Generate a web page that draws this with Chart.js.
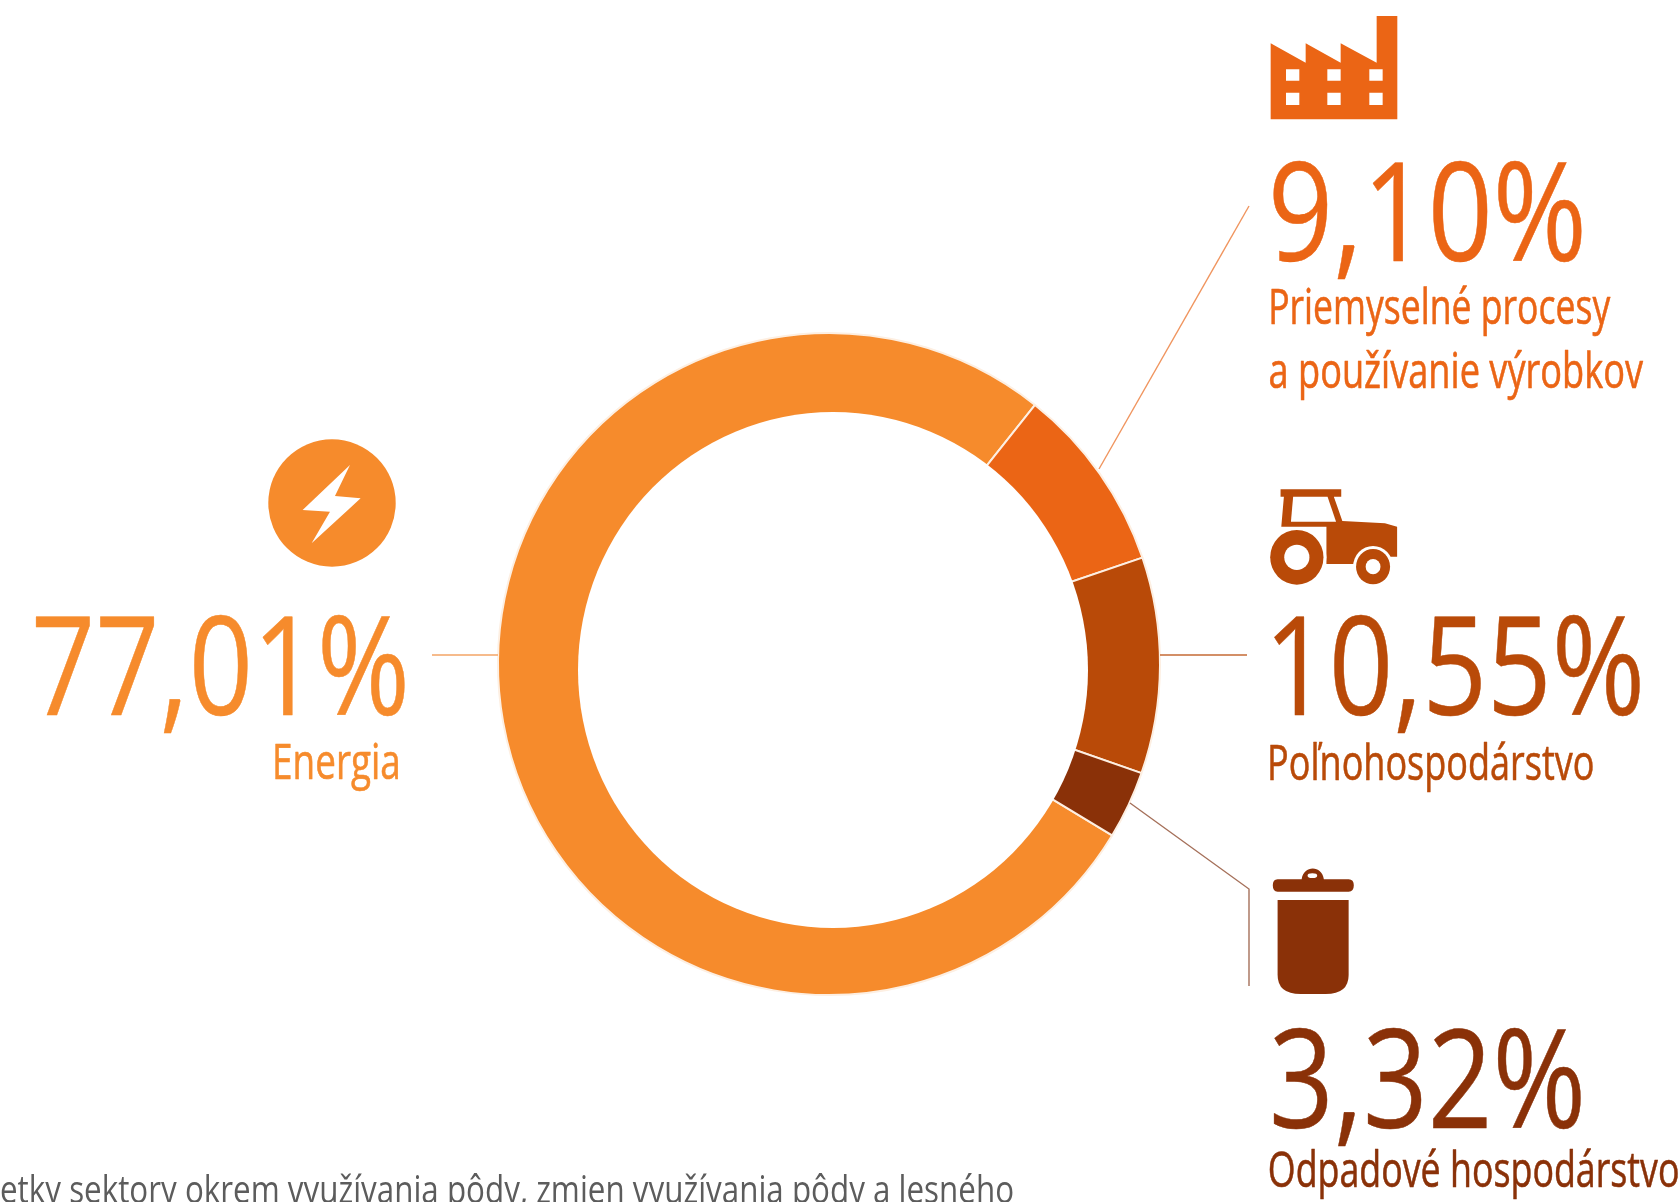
<!DOCTYPE html>
<html lang="sk">
<head>
<meta charset="utf-8">
<title>Emisie podľa sektorov</title>
<style>
html,body{margin:0;padding:0;background:#fff;overflow:hidden}
#wrap{position:relative;width:1679px;height:1202px}
canvas{position:absolute;left:0;top:0}
svg{position:absolute;left:0;top:0}
</style>
<script src="https://cdn.jsdelivr.net/npm/chart.js@4/dist/chart.umd.min.js"></script>
</head>
<body>
<div id="wrap">
<canvas id="c" width="1679" height="1202"></canvas>
<svg width="1679" height="1202" viewBox="0 0 1679 1202" fill="none">
  <!-- leaders -->
  <path d="M1249 206 L1099 469" stroke="#F0955F" stroke-width="1.4"/>
  <path d="M1160 655 H1247" stroke="#C46A35" stroke-width="1.4"/>
  <path d="M432 655 H498" stroke="#F3A566" stroke-width="1.4"/>
  <path d="M1130 803 L1249 889 V986" stroke="#A5705A" stroke-width="1.4"/>
  <!-- factory -->
  <g transform="translate(1240,0) scale(.3333)">
    <path fill="#EB6515" fill-rule="evenodd" d="M92 130 L197 188 V130 L302 188 V130 L410 188 V48 H472 V358 H92 Z
      M138 208 H178 V242 H138 Z M262 208 H302 V242 H262 Z M388 208 H428 V242 H388 Z
      M138 278 H178 V315 H138 Z M262 278 H302 V315 H262 Z M388 278 H428 V315 H388 Z"/>
  </g>
  <!-- tractor -->
  <g transform="translate(1100,460) scale(.37,.3333)">
    <path fill="#B94A08" d="M488 88 H652 V110 H632 L655 183 L770 190 L803 200 V290 H700 V312 H612 V200 H490 L497 110 H488 Z"/>
    <path fill="#fff" d="M522 110 H615 L638 185 H516 Z"/>
    <ellipse cx="532" cy="292" rx="80" ry="90" fill="#fff"/>
    <ellipse cx="738" cy="320" rx="54" ry="62" fill="#fff"/>
    <ellipse cx="532" cy="292" rx="72" ry="82" fill="#B94A08"/>
    <ellipse cx="532" cy="292" rx="34" ry="38" fill="#fff"/>
    <ellipse cx="738" cy="320" rx="46" ry="53" fill="#B94A08"/>
    <ellipse cx="738" cy="320" rx="20" ry="23" fill="#fff"/>
  </g>
  <!-- waste bin -->
  <g transform="translate(1100,780) scale(.37,.3333)">
    <path fill="#8A3108" d="M480 298 H545 C550 255 600 255 605 298 H672 Q686 298 686 316 Q686 335 672 335 H480 Q467 335 467 316 Q467 298 480 298 Z"/>
    <ellipse cx="574" cy="287" rx="13" ry="7" fill="#fff"/>
    <path fill="#8A3108" d="M480 360 H672 V585 Q672 642 610 642 H542 Q480 642 480 585 Z"/>
  </g>
  <!-- energy -->
  <circle cx="332" cy="503" r="63.7" fill="#F68B2C"/>
  <g transform="translate(0,420) scale(.3333)">
    <path fill="#fff" d="M1050 135 L908 270 L990 275 L935 370 L1082 235 L1005 228 Z"/>
  </g>
</svg>
</div>
<script>
const categories = ["Energia", "Priemyselné procesy a používanie výrobkov", "Poľnohospodárstvo", "Odpadové hospodárstvo"];
const shares = [77.01, 9.10, 10.55, 3.32];
const sliceColors = ["#F68B2C", "#EB6515", "#B94A08", "#8A3108"];
const shareText = ["77,01%", "9,10%", "10,55%", "3,32%"];
const captionLines = [["Energia"], ["Priemyselné procesy", "a používanie výrobkov"], ["Poľnohospodárstvo"], ["Odpadové hospodárstvo"]];
const footnote = "Všetky sektory okrem využívania pôdy, zmien využívania pôdy a lesného";
const footnoteVisible = "etky sektory okrem využívania pôdy, zmien využívania pôdy a lesného";

const FONT = "'Open Sans'";
// [inkLeft, inkRight, baseline]
const shareBoxes = [[36,405,715],[1273,1582,261],[1274,1640,715],[1274,1581,1128]];
const captionBoxes = [[[275,398,779]],[[1271,1611,324],[1270,1643,388]],[[1270,1593,780]],[[1270,1678,1187]]];

function fit(ctx, text, font, color, box, sw){
  ctx.save();
  ctx.font = font; ctx.fillStyle = color; ctx.strokeStyle = color; ctx.textBaseline = "alphabetic"; ctx.textAlign = "left";
  const m = ctx.measureText(text);
  const ink = m.actualBoundingBoxRight + m.actualBoundingBoxLeft;
  const s = (box[1]-box[0]) / ink;
  ctx.translate(box[0] + m.actualBoundingBoxLeft*s, box[2]);
  ctx.scale(s,1);
  ctx.fillText(text,0,0);
  if(sw){ ctx.lineWidth = sw; ctx.lineJoin = "round"; ctx.strokeText(text,0,0); }
  ctx.restore();
}
// The hole of the reference ring sits slightly below the ring's centre.
const holePlugin = {
  id:"holePlugin",
  afterDatasetsDraw(chart){
    const ctx = chart.ctx;
    ctx.save();
    ctx.fillStyle = "#fff";
    ctx.beginPath();
    ctx.ellipse(833,670,255,258,0,0,Math.PI*2);
    ctx.fill();
    ctx.restore();
  }
};
const textPlugin = {
  id:"textPlugin",
  afterDraw(chart){
    const ctx = chart.ctx;
    shareText.forEach((t,i)=>fit(ctx,t,"400 138px "+FONT,sliceColors[i],shareBoxes[i],0.5));
    captionLines.forEach((lines,i)=>lines.forEach((t,j)=>fit(ctx,t,"400 50px "+FONT,sliceColors[i],captionBoxes[i][j],0.6)));
    ctx.save();
    ctx.font = "400 38px "+FONT; ctx.fillStyle="#5c5c5c"; ctx.textAlign="left";
    const vis = ctx.measureText(footnoteVisible).width;
    const s = 1014/vis;
    const full = ctx.measureText(footnote).width;
    ctx.translate(1014-full*s,1203);
    ctx.scale(s,1);
    ctx.fillText(footnote,0,0);
    ctx.restore();
  }
};
new Chart(document.getElementById("c"),{
  type:"doughnut",
  data:{labels:categories,datasets:[{data:shares,backgroundColor:sliceColors,borderColor:"#FDEFE2",borderWidth:2}]},
  options:{
    responsive:false,animation:false,rotation:121.2,cutout:"60%",
    layout:{padding:{left:497,right:518,top:332,bottom:206}},
    plugins:{legend:{display:false},tooltip:{enabled:false}}
  },
  plugins:[holePlugin,textPlugin]
});
</script>
</body>
</html>
